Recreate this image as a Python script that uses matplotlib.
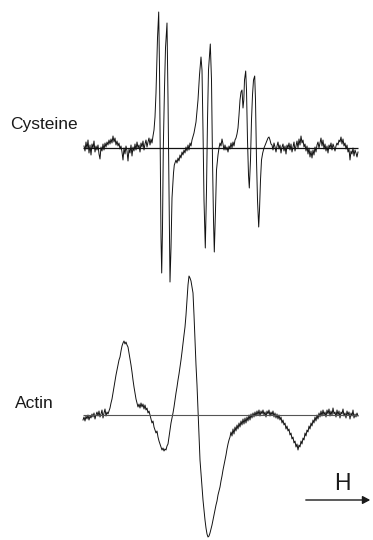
import numpy as np
import matplotlib
matplotlib.use("Agg")
import matplotlib.pyplot as plt

plt.rcParams['font.family'] = ['Liberation Sans', 'DejaVu Sans']

# ---------------- data (field in arbitrary sweep units, signal in arb. units) -------------
cys_field = (
    list(range(84, 154)) +
    [154, 155, 156, 156.7, 157.5, 158.7, 159.5, 160.3, 161, 161.7, 162.5, 163.3, 164.5,
     165.5, 167, 168, 169, 170, 171, 172, 173.5, 174.3, 176, 177, 178, 179, 180, 181,
     182, 183, 184, 185, 186, 187, 188, 189, 190, 191, 192, 194, 196, 198, 199.5, 201,
     202, 203, 204, 205.3, 206.5, 207.5, 208.5, 210.3, 211.5, 212.5, 213.5, 214.3, 215.5,
     216.5, 218, 219, 220, 221, 222, 223, 224, 225, 226, 227, 228, 229, 230, 231, 232,
     233, 234, 235, 236, 237, 238, 239, 240, 241, 242, 243, 243.8, 244.5, 245.7, 246.5,
     247.5, 248.5, 249.3, 250.5, 251.5, 252.5, 253.5, 254.7, 255.5, 256.5, 257.5, 258.7,
     259.5, 260.5, 261.5, 262.7, 264, 266, 268, 269, 270, 271] +
    list(range(272, 359))
)
cys_signal = (
    [2, -3, 6, -1, 8, -5, 3, -7, 4, 0, 7, -4, 2, -2, 3, -6, -11, 1, -3, 4, -2, 5, 1, 6,
     3, 8, 4, 9, 5, 12, 6, 10, 3, 7, 2, 5, -1, 2, -4, -12, 0, -6, 2, -3, -13, -1, -5, 3,
     -8, 1, -3, 4, -2, 6, 0, 3, -4, 5, 1, 7, -2, 4, 8, 1, 6, 10, 3, 9, 5, 12] +
    [18, 31, 55, 81, 110, 136, 80, -10, -90, -125, -80, 0, 60, 100, 125, 50, -40, -134,
     -100, -50, -25, -17, -12, -15, -10, -13, -7, -10, -4, -7, -2, -5, 1, -3, 3, -2, 5, 2,
     8, 15, 26, 48, 73, 91, 78, 18, -52, -100, -42, 28, 78, 104, 68, -12, -72, -104, -62,
     -22, -7, 0, 5, 2, 9, 4, -2, 3, -2, 1, -4, 2, -1, 5, 0, 6, 2, 8, 10, 14, 20, 33, 48,
     56, 58, 40, 48, 68, 77, 58, 8, -27, -40, -12, 28, 53, 68, 72, 48, -12, -52, -79,
     -62, -32, -12, -5, 0, 5, 10, 11, 8, 4] +
    [3, -2, 5, 1, -4, 2, 6, -1, 3, -5, 1, 4, -3, 2, -6, 3, 0, 5, -2, 4, -4, 1, 6, -3, 2,
     7, 0, 9, 3, 12, 5, 8, 1, 4, -3, 2, -6, 0, -9, -3, -10, -2, -7, 1, -4, 3, 6, 0, 5, 10,
     2, 8, -1, 4, -3, 2, -5, 3, 0, 5, -2, 4, 1, -3, 2, 5, 3, 8, 6, 11, 4, 9, 2, 5, -1, 3,
     -4, -1, -12, -3, -6, 0, -8, -2, -5, -9, -4]
)

actin_field = np.arange(83, 359)
actin_signal = [
    -5, -2, -6, -1, -4, 0, -5, -1, -3, 1, -2, 2, -4, 0, 3, -1, 4, -2, 1, 5, -3, 2, 6, -1,
    3, 1,                                                     # 83-108
    4, 7, 12, 16, 22, 28, 34, 40, 45, 50, 55, 58, 64, 69, 72, 74, 71, 73, 70, 68, 62, 56,
    50, 43, 35, 28, 22, 16, 12, 8, 11, 7, 12, 8, 11, 6, 10, 5, 7, 2, 4, 0, -4, -8, -6,
    -12, -15, -18, -16, -22, -26, -29, -32, -35, -33, -36, -34, -35, -31, -29, -22, -15,
    -8, -3,                                                   # 109-172
    2, 8, 15, 22, 28, 35, 41, 48, 55, 63, 72, 80, 88, 100, 115, 130, 139, 137, 134, 128,
    122, 100, 75, 50, 30, 5, -20, -45, -58, -72, -85, -95, -105, -113, -119, -122, -121,
    -118, -114, -110, -105, -100, -95, -90, -86, -80, -76, -72, -66, -61, -55, -50, -45,
    -40, -34, -29, -25, -22,                                  # 173-230
    -17, -21, -14, -19, -12, -16, -10, -14, -8, -12, -6, -10, -4, -9, -3, -8, -2, -6, 0,
    -5, 1, -3, 2, -2, 3, -1, 4, 0, 5, -1, 4, 1, 5, 0, 3, -2, 4, 1, 5, -1, 3, 0, 4, -2, 2,
    -3, 1, -4, 0, -5, -2, -8, -5, -10, -8, -14, -11, -16, -14, -20, -18, -24, -22, -28,
    -26, -32, -29, -35, -30, -32, -26, -29, -23, -25, -18, -21, -15, -17, -11, -14, -8,
    -11, -5, -8, -2, -6, 0, -4, 2, -2, 4, -1, 5, 0, 3, -2, 5, 1, 6, -1, 4, 0, 7, 1, 3, -2,
    5, 0, 4, -3, 3, 1, 6, -1, 2, -3, 4, 0, 3, -4, 2, -1, 5, -3, 1, -2, 2, -1   # 231-358
]

labels = ["Cysteine", "Actin"]
field_label = "H"

# ---------------- figure ----------------
W, H = 373, 540
fig = plt.figure(figsize=(W / 100, H / 100), dpi=100)
fig.patch.set_facecolor("white")

# Cysteine panel: pixel rows 0..300, baseline at row 148
ax1 = fig.add_axes([0, 1 - 300 / H, 1, 300 / H])
ax1.set_xlim(0, W)
ax1.set_ylim(-152, 148)
ax1.axis("off")
ax1.plot(cys_field, cys_signal, color="#111111", lw=0.7)
ax1.hlines(0, 83, 358, color="#111111", lw=0.9)

# Actin panel: pixel rows 260..540, baseline at row 415
ax2 = fig.add_axes([0, 0, 1, 280 / H])
ax2.set_xlim(0, W)
ax2.set_ylim(-125, 155)
ax2.axis("off")
ax2.plot(actin_field, actin_signal, color="#111111", lw=0.7)
ax2.hlines(0, 83, 358, color="#555555", lw=0.8)

fig.text(10 / W, 1 - 125 / H, labels[0], fontsize=12.5, ha="left", va="center", color="#1a1a1a")
fig.text(15 / W, 1 - 403 / H, labels[1], fontsize=12.5, ha="left", va="center", color="#1a1a1a")
fig.text(342 / W, 1 - 484 / H, field_label, fontsize=16.5, ha="center", va="center", color="#1a1a1a")

fig.add_artist(matplotlib.patches.FancyArrowPatch(
    (303 / W, 1 - 500 / H), (373 / W, 1 - 500 / H), transform=fig.transFigure,
    arrowstyle="-|>,head_length=3,head_width=1.6", mutation_scale=1.5,
    color="#1a1a1a", lw=1.0))

fig.savefig("out.png", dpi=100, facecolor="white")
